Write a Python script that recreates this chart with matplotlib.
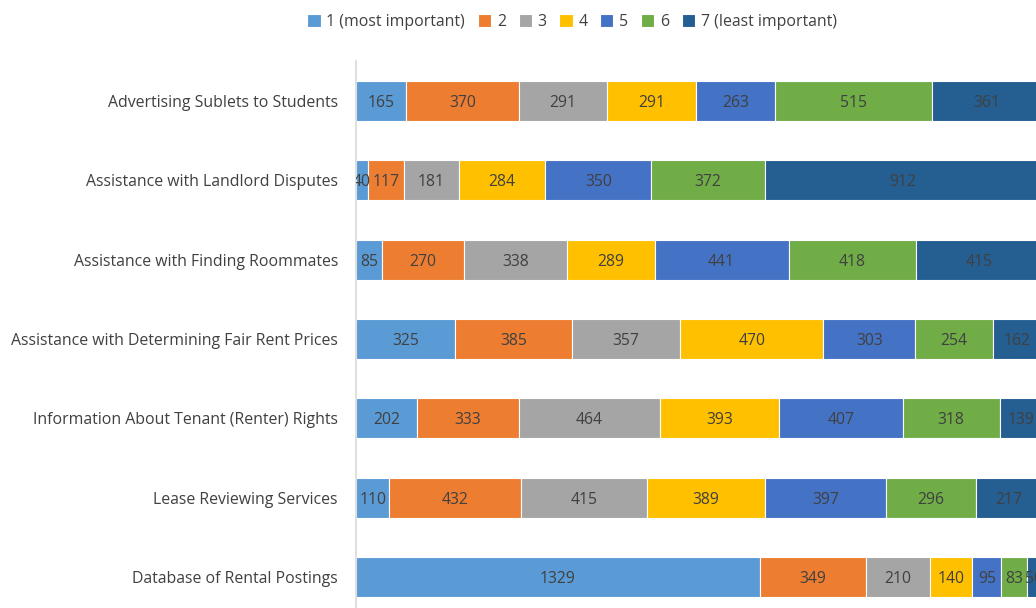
import matplotlib
matplotlib.use("Agg")
import matplotlib.pyplot as plt
import numpy as np

categories = [
    "Advertising Sublets to Students",
    "Assistance with Landlord Disputes",
    "Assistance with Finding Roommates",
    "Assistance with Determining Fair Rent Prices",
    "Information About Tenant (Renter) Rights",
    "Lease Reviewing Services",
    "Database of Rental Postings",
]
rank_labels = ["1 (most important)", "2", "3", "4", "5", "6", "7 (least important)"]

rank1 = [165, 40, 85, 325, 202, 110, 1329]
rank2 = [370, 117, 270, 385, 333, 432, 349]
rank3 = [291, 181, 338, 357, 464, 415, 210]
rank4 = [291, 284, 289, 470, 393, 389, 140]
rank5 = [263, 350, 441, 303, 407, 397, 95]
rank6 = [515, 372, 418, 254, 318, 296, 83]
rank7 = [361, 912, 415, 162, 139, 217, 50]
series = [rank1, rank2, rank3, rank4, rank5, rank6, rank7]

colors = ["#5B9BD5", "#ED7D31", "#A5A5A5", "#FFC000", "#4472C4", "#70AD47", "#255E91"]

plt.rcParams["font.family"] = ["Open Sans", "DejaVu Sans"]
text_color = "#404040"

W, H = 1036, 608
fig = plt.figure(figsize=(W / 100, H / 100), dpi=100)
top_px, bottom_px = 61.3, 616.7
left_px = 356
ax = fig.add_axes([left_px / W, (H - bottom_px) / H, 1 - left_px / W, (bottom_px - top_px) / H])

y = np.arange(len(categories))
left = np.zeros(len(categories))
for vals, lab, col in zip(series, rank_labels, colors):
    vals = np.array(vals, dtype=float)
    ax.barh(y, vals, left=left, height=0.505, color=col, label=lab,
            edgecolor="white", linewidth=0.8)
    for yi, (l, v) in enumerate(zip(left, vals)):
        ax.text(l + v / 2, yi, f"{int(v)}", ha="center", va="center_baseline",
                fontsize=11.3, color=text_color, clip_on=True)
    left += vals

ax.set_xlim(0, 2237)
ax.set_ylim(len(categories) - 0.5, -0.5)
ax.set_yticks(y)
ax.set_yticklabels(categories, fontsize=11.4, color=text_color, va="center_baseline")
ax.tick_params(axis="y", length=0, pad=13)
ax.set_xticks([])
for s in ["top", "right", "bottom"]:
    ax.spines[s].set_visible(False)
ax.spines["left"].set_color("#D9D9D9")
ax.spines["left"].set_linewidth(1.2)

fig.legend(loc="center", bbox_to_anchor=(572 / W, 1 - 22 / H), ncol=7,
           frameon=False, fontsize=11.4, handlelength=0.85, handleheight=0.85,
           handletextpad=0.35, columnspacing=0.8, labelcolor=text_color)

fig.savefig("out.png", dpi=100)
